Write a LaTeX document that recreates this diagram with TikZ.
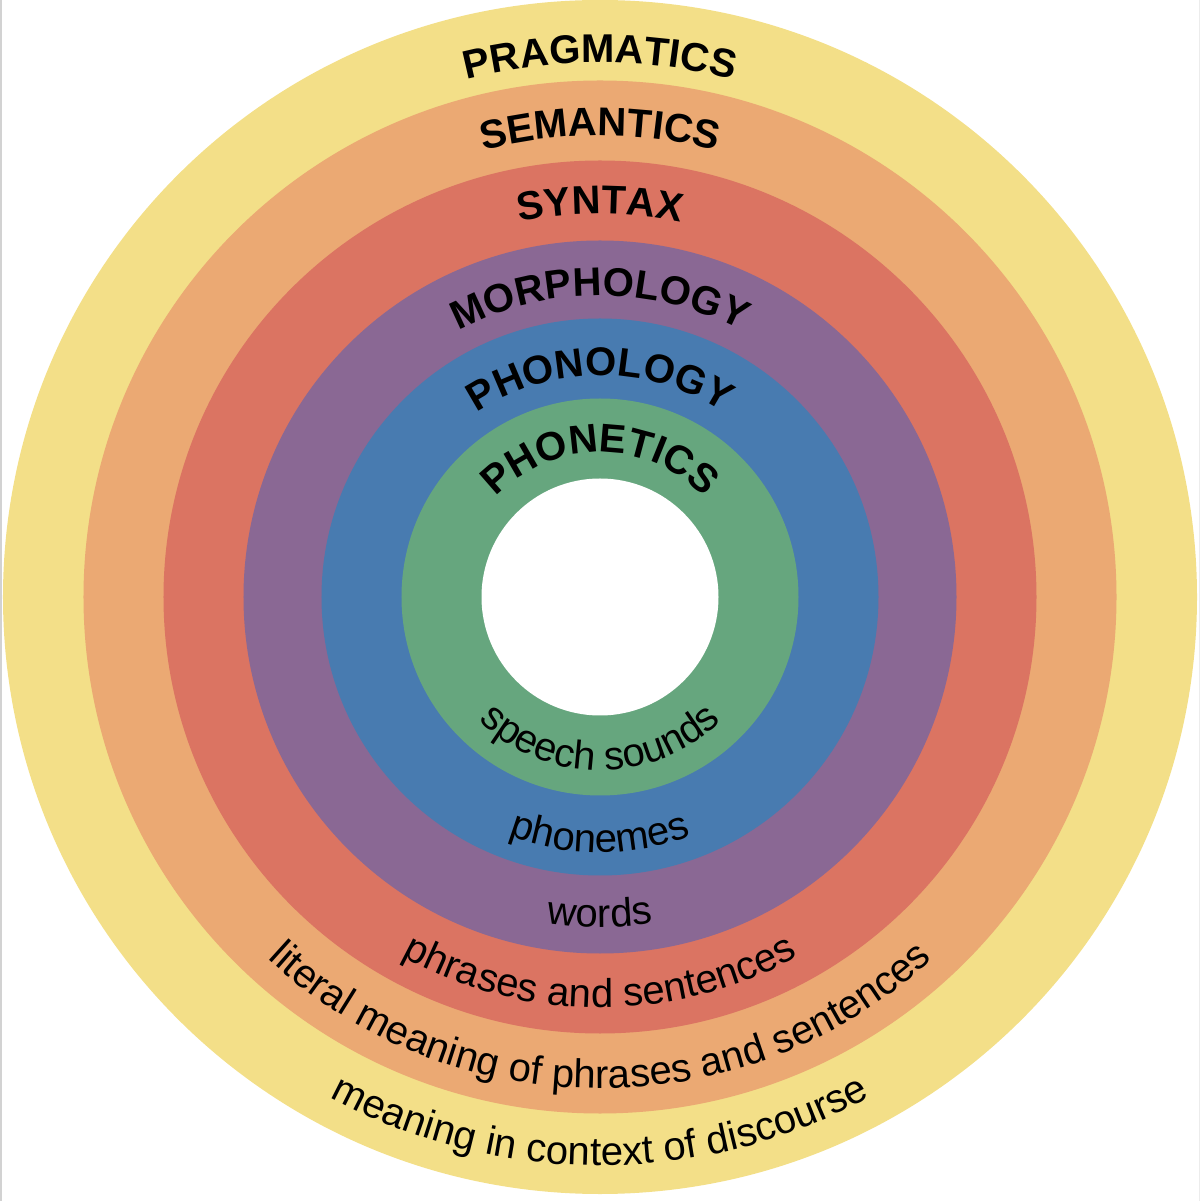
\documentclass[tikz,border=0pt]{standalone}
\usepackage{fontspec}
\setmainfont{Liberation Sans}
\usetikzlibrary{decorations.text}

\definecolor{pragcol}{HTML}{F3DF88}
\definecolor{semcol}{HTML}{EBA973}
\definecolor{syncol}{HTML}{DB7462}
\definecolor{morcol}{HTML}{8A6894}
\definecolor{phocol}{HTML}{487BB0}
\definecolor{phtcol}{HTML}{66A67E}

\newcommand\levelfont{\fontsize{11.4}{13}\selectfont\bfseries}
\newcommand\unitfont{\fontsize{11.4}{13}\selectfont}

\begin{document}
\begin{tikzpicture}[
    ring/.style = {fill = #1},
    levellabel/.style = {decoration = {text along path, text = {|\levelfont|#1}, text align = center}, decorate},
    unitlabel/.style = {decoration = {text along path, text = {|\unitfont|#1}, text align = center}, decorate}]
    \useasboundingbox (-6, -6.04) rectangle (6, 5.97);
    \draw[gray!35, line width = 0.02cm] (-5.99, -6.04) -- (-5.99, 5.97);
    \draw[gray!15, line width = 0.01cm] (5.995, -6.04) -- (5.995, 5.97);
    % rings, outside in
    \fill[ring = pragcol] (0, 0) circle (5.97);
    \fill[ring = semcol]  (0, 0) circle (5.165);
    \fill[ring = syncol]  (0, 0) circle (4.365);
    \fill[ring = morcol]  (0, 0) circle (3.565);
    \fill[ring = phocol]  (0, 0) circle (2.785);
    \fill[ring = phtcol]  (0, 0) circle (1.985);
    \fill[white]          (0, 0) circle (1.185);
    % level names, over the top
    \path[levellabel = PRAGMATICS] (180:5.345) arc[start angle = 180, end angle = 0, radius = 5.345];
    \path[levellabel = SEMANTICS]  (180:4.615) arc[start angle = 180, end angle = 0, radius = 4.615];
    \path[levellabel = SYNTAX]     (180:3.835) arc[start angle = 180, end angle = 0, radius = 3.835];
    \path[levellabel = MORPHOLOGY] (180:3.015) arc[start angle = 180, end angle = 0, radius = 3.015];
    \path[levellabel = PHONOLOGY]  (180:2.215) arc[start angle = 180, end angle = 0, radius = 2.215];
    \path[levellabel = PHONETICS]  (180:1.445) arc[start angle = 180, end angle = 0, radius = 1.445];
    % units, along the bottom
    \path[unitlabel = {meaning in context of discourse}] (180:5.685) arc[start angle = 180, end angle = 360, radius = 5.685];
    \path[unitlabel = {literal meaning of phrases and sentences}] (180:4.915) arc[start angle = 180, end angle = 360, radius = 4.915];
    \path[unitlabel = {phrases and sentences}] (180:4.105) arc[start angle = 180, end angle = 360, radius = 4.105];
    \path[unitlabel = {words}]        (180:3.305) arc[start angle = 180, end angle = 360, radius = 3.305];
    \path[unitlabel = {phonemes}]     (180:2.555) arc[start angle = 180, end angle = 360, radius = 2.555];
    \path[unitlabel = {speech sounds}] (180:1.735) arc[start angle = 180, end angle = 360, radius = 1.735];
\end{tikzpicture}
\end{document}
